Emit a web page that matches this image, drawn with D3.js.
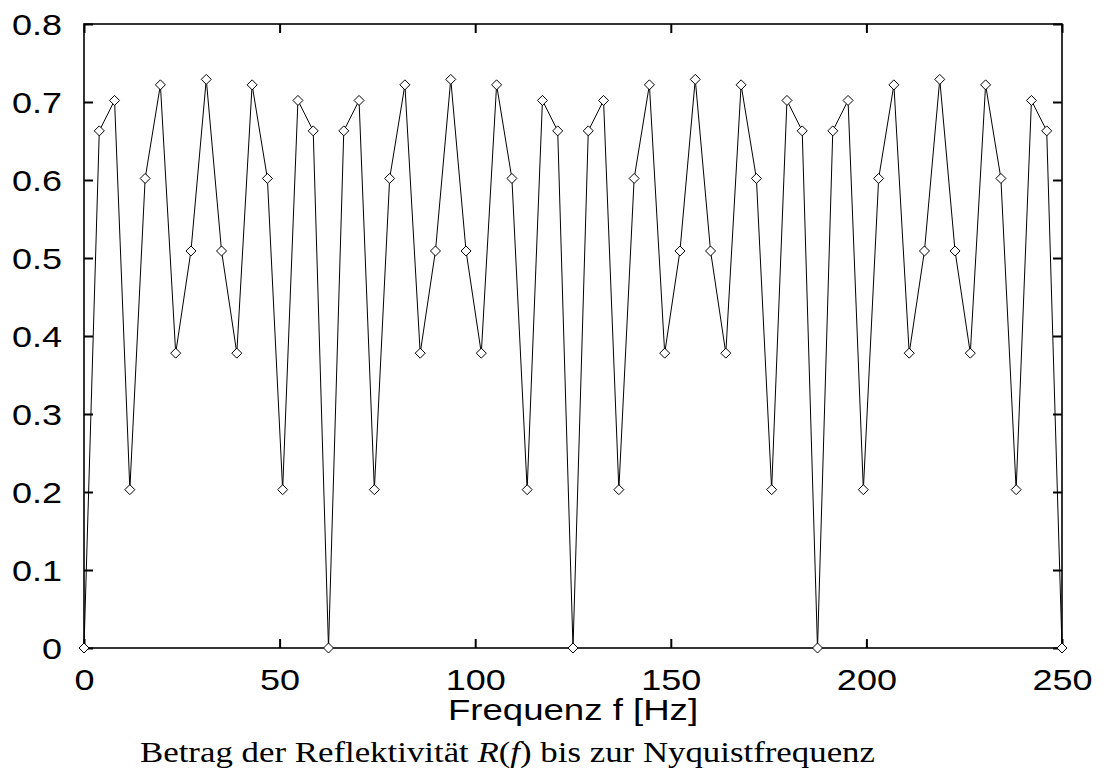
<!DOCTYPE html>
<html>
<head>
<meta charset="utf-8">
<script src="https://cdn.jsdelivr.net/npm/d3@7"></script>
<style>
  body { margin: 0; background: #fff; }
</style>
</head>
<body>
<div id="chart"></div>
<script>
// sample frequencies [Hz]
const freqs = [
    0, 3.91, 7.81, 11.72, 15.63, 19.53, 23.44, 27.34, 31.25, 35.16, 39.06, 42.97, 46.88, 50.78, 54.69, 58.59,
    62.5, 66.41, 70.31, 74.22, 78.13, 82.03, 85.94, 89.84, 93.75, 97.66, 101.56, 105.47, 109.38, 113.28, 117.19, 121.09,
    125, 128.91, 132.81, 136.72, 140.63, 144.53, 148.44, 152.34, 156.25, 160.16, 164.06, 167.97, 171.88, 175.78, 179.69, 183.59,
    187.5, 191.41, 195.31, 199.22, 203.13, 207.03, 210.94, 214.84, 218.75, 222.66, 226.56, 230.47, 234.38, 238.28, 242.19, 246.09,
    250
];
// |R(f)|
const refl = [
    0, 0.663, 0.702, 0.203, 0.602, 0.722, 0.378, 0.509, 0.729, 0.509, 0.378, 0.722, 0.602, 0.203, 0.702, 0.663,
    0, 0.663, 0.702, 0.203, 0.602, 0.722, 0.378, 0.509, 0.729, 0.509, 0.378, 0.722, 0.602, 0.203, 0.702, 0.663,
    0, 0.663, 0.702, 0.203, 0.602, 0.722, 0.378, 0.509, 0.729, 0.509, 0.378, 0.722, 0.602, 0.203, 0.702, 0.663,
    0, 0.663, 0.702, 0.203, 0.602, 0.722, 0.378, 0.509, 0.729, 0.509, 0.378, 0.722, 0.602, 0.203, 0.702, 0.663,
    0
];
const xTicks = [0, 50, 100, 150, 200, 250];
const yTicks = [0, 0.1, 0.2, 0.3, 0.4, 0.5, 0.6, 0.7, 0.8];

const W = 1104, H = 775;
const margin = {l: 84, r: 42, t: 24, b: 127};
const width = W - margin.l - margin.r;
const height = H - margin.t - margin.b;

const svg = d3.select("#chart").append("svg")
    .attr("width", W)
    .attr("height", H);
const g = svg.append("g")
    .attr("transform", `translate(${margin.l},${margin.t})`);

const x = d3.scaleLinear().domain([0, 250]).range([0, width]);
const y = d3.scaleLinear().domain([0, 0.8]).range([height, 0]);

const sans = "'Liberation Sans', Arial, Helvetica, sans-serif";
const tickLen = 9;
const stretch = 1.2;   // the original lettering is a bit wide

// widen a text node horizontally, keeping its anchor
function widen(sel, k) {
    sel.each(function() {
        const w = this.getComputedTextLength();
        d3.select(this)
            .attr("textLength", w * k)
            .attr("lengthAdjust", "spacingAndGlyphs");
    });
}

// inward ticks on all four sides
const axes = [
    {ax: d3.axisBottom(x).tickValues(xTicks).tickFormat(d3.format("d")), tr: `translate(0,${height})`, dir: "b"},
    {ax: d3.axisTop(x).tickValues(xTicks).tickFormat(""), tr: "translate(0,0)", dir: "t"},
    {ax: d3.axisLeft(y).tickValues(yTicks).tickFormat(d => d === 0 ? "0" : d3.format(".1f")(d)), tr: "translate(0,0)", dir: "l"},
    {ax: d3.axisRight(y).tickValues(yTicks).tickFormat(""), tr: `translate(${width},0)`, dir: "r"}
];
axes.forEach(a => {
    const ag = g.append("g")
        .attr("transform", a.tr)
        .call(a.ax.tickSizeInner(-tickLen).tickSizeOuter(0).tickPadding(tickLen + 13));
    ag.select(".domain").remove();
    ag.selectAll(".tick line").attr("stroke", "#000").attr("stroke-width", 2);
    const t = ag.selectAll("text")
        .attr("font-family", sans)
        .attr("font-size", 30)
        .attr("fill", "#000");
    if (a.dir === "b") t.attr("dy", "0.72em").attr("y", 20);
    if (a.dir === "l") t.attr("dy", "0.36em").attr("x", -22);
    widen(t, stretch);
});

// frame
g.append("rect")
    .attr("width", width)
    .attr("height", height)
    .attr("fill", "none")
    .attr("stroke", "#000")
    .attr("stroke-width", 1.6);

// data line
const pts = freqs.map((f, i) => [f, refl[i]]);
g.append("path")
    .datum(pts)
    .attr("fill", "none")
    .attr("stroke", "#000")
    .attr("stroke-width", 1)
    .attr("d", d3.line().x(d => x(d[0])).y(d => y(d[1])));

// diamond markers
g.selectAll(".pt")
    .data(pts)
    .enter().append("path")
    .attr("class", "pt")
    .attr("transform", d => `translate(${x(d[0])},${y(d[1])})`)
    .attr("d", "M0,-5L5,0L0,5L-5,0Z")
    .attr("fill", "#fff")
    .attr("stroke", "#000")
    .attr("stroke-width", 1);

// axis title
const xl = svg.append("text")
    .attr("x", 573)
    .attr("y", 720)
    .attr("text-anchor", "middle")
    .attr("font-family", sans)
    .attr("font-size", 30)
    .attr("fill", "#000")
    .text("Frequenz f [Hz]");
widen(xl, 1.22);

// caption
const cap = svg.append("text")
    .attr("x", 140)
    .attr("y", 762)
    .attr("font-family", "'Liberation Serif', 'Times New Roman', serif")
    .attr("font-size", 30)
    .attr("fill", "#000");
cap.append("tspan").text("Betrag der Reflektivität ");
cap.append("tspan").attr("font-style", "italic").text("R");
cap.append("tspan").text("(");
cap.append("tspan").attr("font-style", "italic").text("f");
cap.append("tspan").text(") bis zur Nyquistfrequenz");
cap.attr("textLength", 735).attr("lengthAdjust", "spacingAndGlyphs");
</script>
</body>
</html>
